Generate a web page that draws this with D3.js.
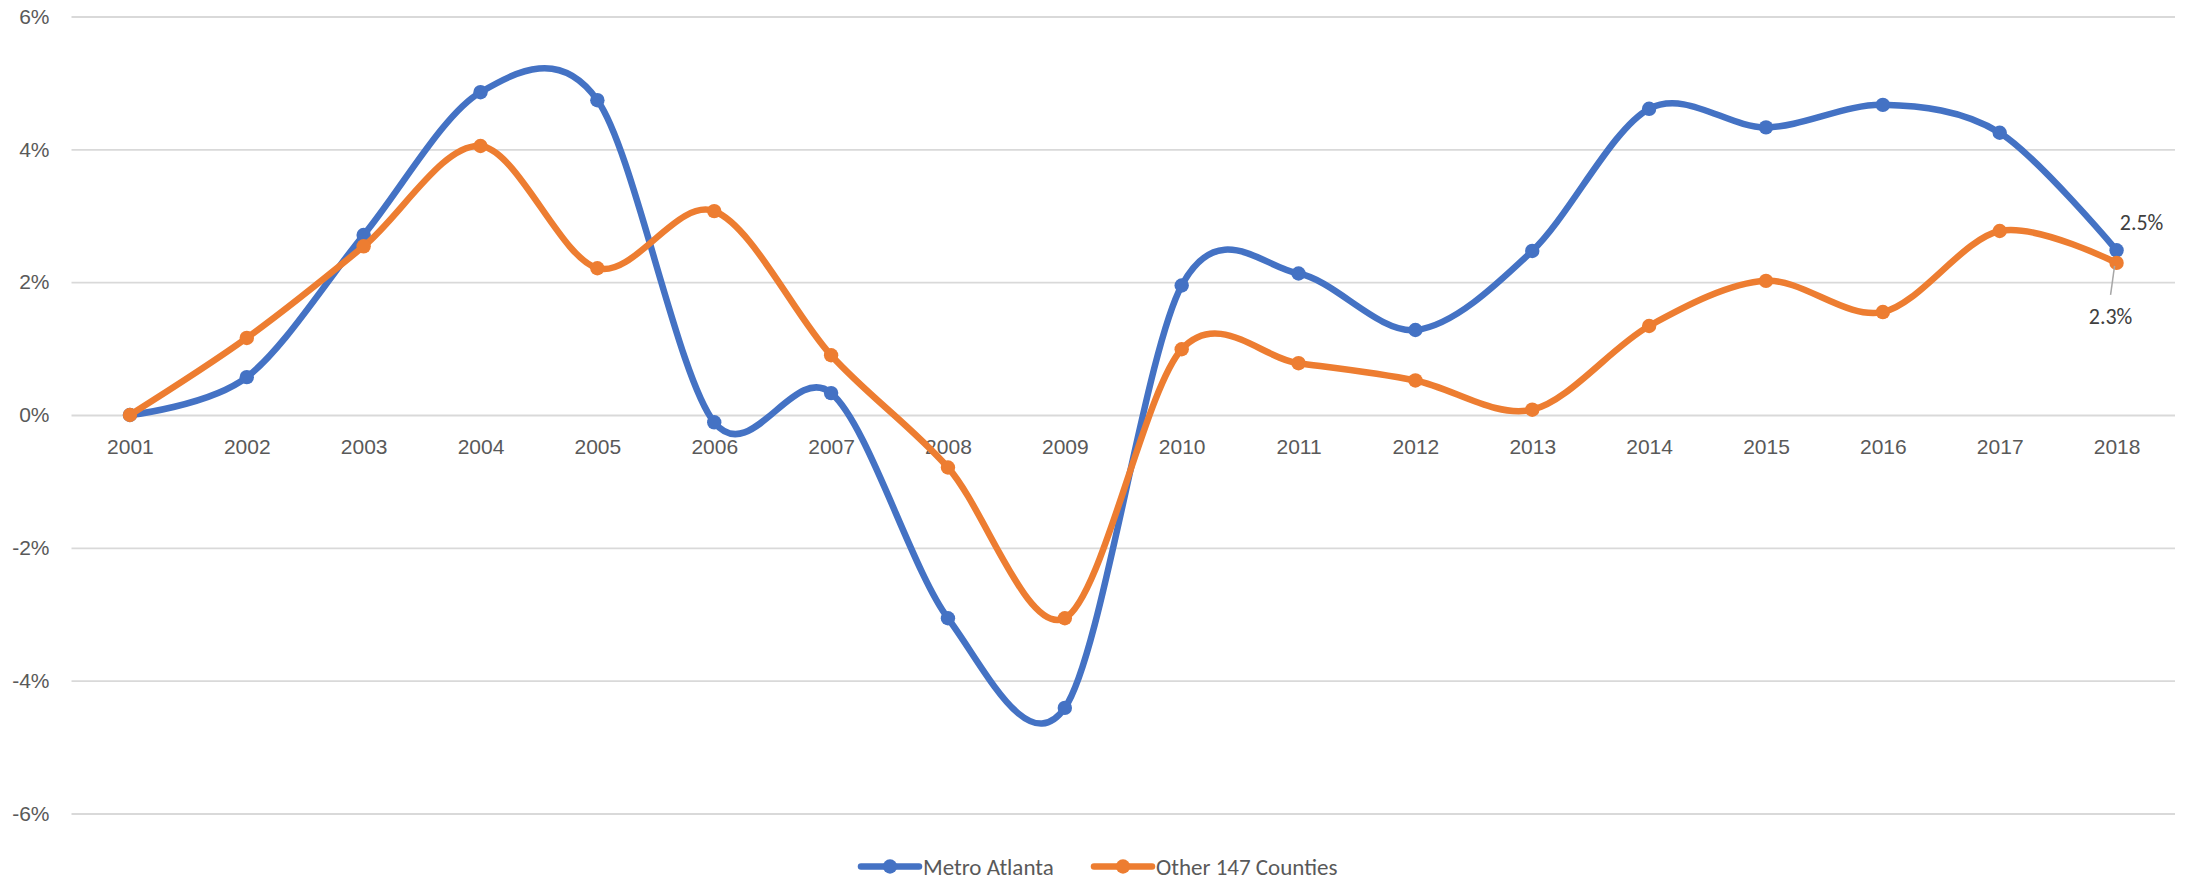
<!DOCTYPE html>
<html>
<head>
<meta charset="utf-8">
<script src="https://cdn.jsdelivr.net/npm/d3@7"></script>
<style>
  html, body { margin: 0; padding: 0; background: #fff; }
  svg { display: block; font-family: Carlito, Calibri, Lato, "Open Sans", sans-serif; }
</style>
</head>
<body>
<svg id="chart" width="2188" height="880"></svg>
<script>
// ---- data ----
const years = ["2001","2002","2003","2004","2005","2006","2007","2008","2009","2010","2011","2012","2013","2014","2015","2016","2017","2018"];
const metroAtlanta = [0, 0.57, 2.71, 4.86, 4.74, -0.11, 0.33, -3.06, -4.41, 1.95, 2.13, 1.28, 2.47, 4.61, 4.33, 4.67, 4.25, 2.48];
const otherCounties = [0, 1.16, 2.54, 4.05, 2.21, 3.07, 0.90, -0.79, -3.06, 0.99, 0.78, 0.52, 0.08, 1.34, 2.02, 1.55, 2.77, 2.29];
const yTicks = [-6, -4, -2, 0, 2, 4, 6];
const seriesNames = ["Metro Atlanta", "Other 147 Counties"];
const endLabels = ["2.5%", "2.3%"];

const colors = ["#4472C4", "#ED7D31"];
const svg = d3.select("#chart");
const plotLeft = 71.5, plotRight = 2175, plotTop = 16.5, plotBottom = 813.5;

const x = d3.scalePoint().domain(years).range([plotLeft, plotRight]).padding(0.5);
const y = d3.scaleLinear().domain([-6, 6]).range([plotBottom, plotTop]);

// gridlines + y labels
const yAxis = svg.append("g")
  .attr("transform", `translate(${plotLeft},0)`)
  .call(d3.axisLeft(y).tickValues(yTicks).tickSize(-(plotRight - plotLeft)).tickPadding(22).tickFormat(d => d + "%"));
yAxis.select(".domain").remove();
yAxis.selectAll(".tick line").attr("stroke", "#D9D9D9").attr("stroke-width", 1.8);
yAxis.selectAll(".tick text").attr("fill", "#595959").attr("font-size", 21);

// x labels
const xAxis = svg.append("g")
  .attr("transform", `translate(0,${y(0)})`)
  .call(d3.axisBottom(x).tickSize(0).tickPadding(24));
xAxis.select(".domain").remove();
xAxis.selectAll(".tick text").attr("fill", "#595959").attr("font-size", 21);

// lines
const line = d3.line()
  .x((d, i) => x(years[i]))
  .y(d => y(d))
  .curve(d3.curveCardinal.tension(0.05));

[metroAtlanta, otherCounties].forEach((vals, s) => {
  const g = svg.append("g");
  g.append("path").datum(vals)
    .attr("d", line)
    .attr("fill", "none")
    .attr("stroke", colors[s])
    .attr("stroke-width", 6.5)
    .attr("stroke-linecap", "round")
    .attr("stroke-linejoin", "round");
  g.selectAll("circle").data(vals).join("circle")
    .attr("cx", (d, i) => x(years[i]))
    .attr("cy", d => y(d))
    .attr("r", 7.2)
    .attr("fill", colors[s]);
});

// end labels
const lastYear = years[years.length - 1];
const lx = x(lastYear);
svg.append("text")
  .attr("x", lx + 25).attr("y", y(metroAtlanta[metroAtlanta.length - 1]) - 20)
  .attr("text-anchor", "middle").attr("font-size", 22).attr("fill", "#404040")
  .text(endLabels[0]);
const oy = y(otherCounties[otherCounties.length - 1]);
svg.append("line")
  .attr("x1", lx - 2).attr("y1", oy + 3)
  .attr("x2", lx - 6).attr("y2", oy + 32)
  .attr("stroke", "#A6A6A6").attr("stroke-width", 1.5);
svg.append("text")
  .attr("x", lx - 6).attr("y", oy + 61)
  .attr("text-anchor", "middle").attr("font-size", 22).attr("fill", "#404040")
  .text(endLabels[1]);

// legend
const legendY = 866.5;
const legendStarts = [861, 1094];
seriesNames.forEach((name, s) => {
  const lg = svg.append("g").attr("transform", `translate(${legendStarts[s]},${legendY})`);
  lg.append("line").attr("x1", 0).attr("x2", 58).attr("y1", 0).attr("y2", 0)
    .attr("stroke", colors[s]).attr("stroke-width", 6.5).attr("stroke-linecap", "round");
  lg.append("circle").attr("cx", 29).attr("cy", 0).attr("r", 7.2).attr("fill", colors[s]);
  lg.append("text").attr("x", 62).attr("y", 0).attr("dy", "0.35em")
    .attr("font-size", 23).attr("fill", "#595959").text(name);
});
</script>
</body>
</html>
